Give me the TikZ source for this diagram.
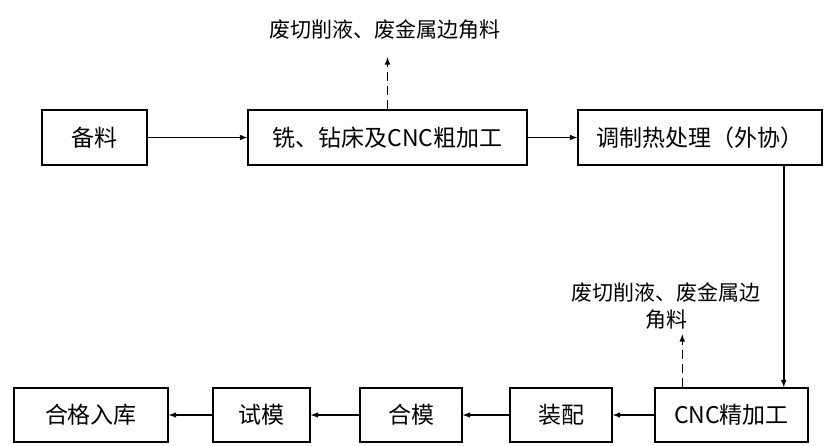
\documentclass[tikz,border=0pt]{standalone}
\usepackage{fontspec}
\setmainfont{Noto Sans CJK SC}
\begin{document}
\begin{tikzpicture}[>=latex, line width=1.5pt, x=1pt, y=-1pt,
        box/.style={draw, inner sep=0pt, minimum height=55pt, font=\fontsize{23}{25}\selectfont},
        waste/.style={inner sep=1pt, align=center, font=\fontsize{21}{27}\selectfont}]
    \useasboundingbox (0,0) rectangle (825,445);
    % upper row
    \draw (94.5,137.5)node[box, minimum width=105pt, name=A]{备料};
    \draw (387.5,137.5)node[box, minimum width=279pt, name=B]{铣、钻床及CNC粗加工};
    \draw (700,137.5)node[box, minimum width=244pt, name=C]{调制热处理（外协）};
    \draw (385,30)node[waste, name=W1]{废切削液、废金属边角料};
    % lower row
    \draw (731.5,415)node[box, minimum width=153pt, minimum height=54pt, name=D]{CNC精加工};
    \draw (561,415)node[box, minimum width=102pt, minimum height=54pt, name=E]{装配};
    \draw (411,415)node[box, minimum width=102pt, minimum height=54pt, name=F]{合模};
    \draw (261.5,415)node[box, minimum width=97pt, minimum height=54pt, name=G]{试模};
    \draw (91,415)node[box, minimum width=154pt, minimum height=54pt, name=H]{合格入库};
    \draw (666,306)node[waste, name=W2]{废切削液、废金属边\\角料};
    % flow
    \draw[->] (A.east) -- (B.west);
    \draw[->] (B.east) -- (C.west);
    \draw[->] ([xshift=-39pt]C.south east) -- ([xshift=-39pt]C.south east |- D.north);
    \draw[->] (D.west) -- (E.east);
    \draw[->] (E.west) -- (F.east);
    \draw[->] (F.west) -- (G.east);
    \draw[->] (G.west) -- (H.east);
    % waste
    \draw[->, dash pattern=on 9pt off 5pt] (B.north) --++(0,-52);
    \draw[->, dash pattern=on 9pt off 5pt] ([xshift=28pt]D.north west) --++(0,-53);
\end{tikzpicture}
\end{document}
